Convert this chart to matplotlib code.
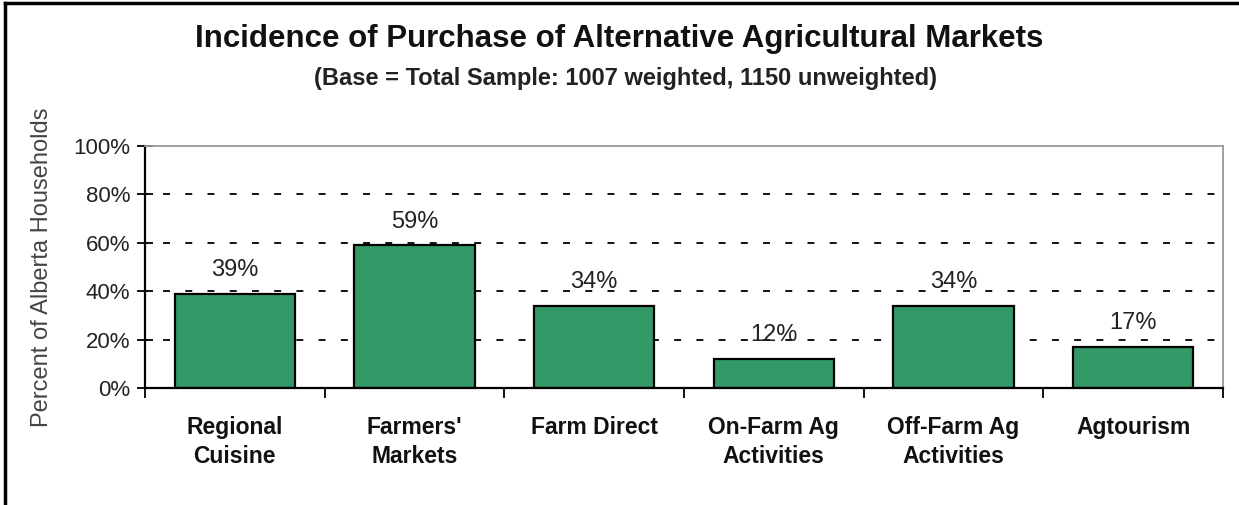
import matplotlib
matplotlib.use("Agg")
import matplotlib.pyplot as plt
import matplotlib.ticker as ticker
from matplotlib.lines import Line2D
import numpy as np

# chart data
categories = ["Regional\nCuisine", "Farmers'\nMarkets", "Farm Direct",
              "On-Farm Ag\nActivities", "Off-Farm Ag\nActivities", "Agtourism"]
values = [39, 59, 34, 12, 34, 17]
y_ticks = [0, 20, 40, 60, 80, 100]

title = "Incidence of Purchase of Alternative Agricultural Markets"
subtitle = "(Base = Total Sample: 1007 weighted, 1150 unweighted)"
y_label = "Percent of Alberta Households"

plt.rcParams['font.family'] = ['Liberation Sans', 'DejaVu Sans']
plt.rcParams['lines.scale_dashes'] = False

fig = plt.figure(figsize=(12.39, 5.05), dpi=100)
ax = fig.add_axes([0.117, 0.2317, 0.870, 0.4793])

ind = np.arange(len(values))

# dashed gridlines
for t in y_ticks[1:-1]:
    ax.axhline(t, color='black', linewidth=1.3, linestyle=(3, (5, 11)), zorder=1)

bars = ax.bar(ind, values, width=0.67, color='#339966', edgecolor='black',
              linewidth=1.6, zorder=2)

for bar, v in zip(bars, values):
    ax.annotate('{}%'.format(v), (bar.get_x() + bar.get_width() / 2, v),
                xytext=(0, 17), textcoords='offset points',
                ha='center', va='center', fontsize=17, color='#222222')

ax.set_xlim(-0.5, len(values) - 0.5)
ax.set_ylim(0, 100)

ax.set_yticks(y_ticks)
ax.yaxis.set_major_formatter(ticker.FuncFormatter(lambda y, _: '{:.0f}%'.format(y)))
ax.tick_params(axis='y', direction='inout', length=11, width=1.3, pad=5,
               labelsize=16, labelcolor='#222222')

ax.set_xticks(ind)
ax.set_xticklabels(categories, fontsize=16.5, fontweight='bold', linespacing=1.35)
ax.set_xticks(np.arange(len(values) + 1) - 0.5, minor=True)
ax.tick_params(axis='x', which='major', length=0, pad=20, labelcolor='#111111')
ax.tick_params(axis='x', which='minor', direction='out', length=7, width=1.3)

ax.spines['left'].set_linewidth(1.6)
ax.spines['bottom'].set_linewidth(1.6)
ax.spines['top'].set_color('#999999')
ax.spines['right'].set_color('#999999')
ax.spines['top'].set_linewidth(1.3)
ax.spines['right'].set_linewidth(1.3)

ax.set_ylabel(y_label, fontsize=17, color='#444444')
ax.yaxis.set_label_coords(-0.085, 0.5)

fig.text(0.5, 0.922, title, ha='center', va='center', fontsize=22.5,
         fontweight='bold', color='#111111')
fig.text(0.505, 0.845, subtitle, ha='center', va='center', fontsize=17,
         fontweight='bold', color='#222222')

# outer frame (top and left edges visible)
fig.add_artist(Line2D([0.004, 1.0], [0.994, 0.994], transform=fig.transFigure,
                      color='black', linewidth=2.5))
fig.add_artist(Line2D([0.004, 0.004], [0.0, 0.994], transform=fig.transFigure,
                      color='black', linewidth=2.5))

fig.savefig('out.png', dpi=100)
